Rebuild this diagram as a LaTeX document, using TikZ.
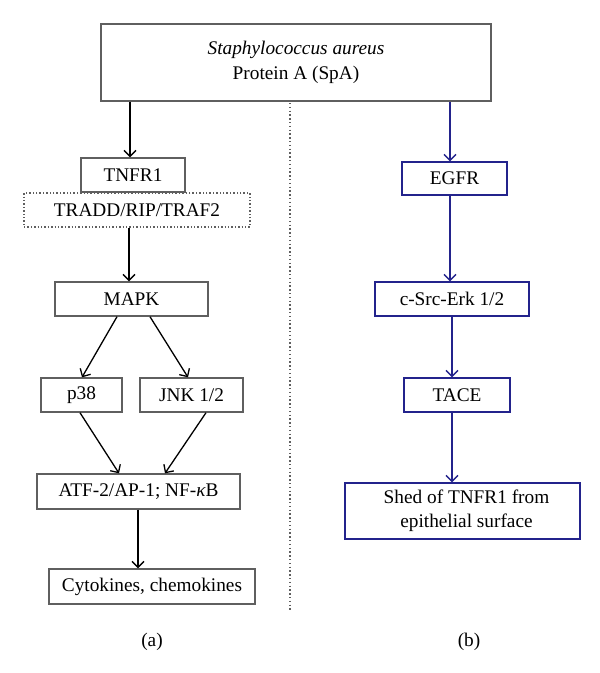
\documentclass[tikz,border=0pt]{standalone}
\usepackage{fontspec}
\setmainfont{Liberation Serif}
\usetikzlibrary{arrows.meta}
\definecolor{boxgray}{RGB}{95,95,95}
\definecolor{navy}{RGB}{35,35,140}
\begin{document}
\begin{tikzpicture}[x=1pt,y=-1pt,
  every node/.style={font=\fontsize{19.3}{24.5}\selectfont, inner sep=0pt, align=center},
  gbox/.style={draw=boxgray, line width=1.4pt, minimum height=34pt},
  bbox/.style={draw=navy, line width=1.4pt, minimum height=33pt},
  dbox/.style={draw=boxgray, line width=1.4pt, dotted, minimum height=34pt},
  arr/.style={draw=black, line width=1.3pt, -{Straight Barb[length=6pt,width=12pt,line width=1.3pt]}},
  barr/.style={draw=navy, line width=1.3pt, -{Straight Barb[length=6pt,width=12pt,line width=1.3pt]}}]
\useasboundingbox (0,0) rectangle (600,673);
\fill[white] (0,0) rectangle (600,673);

% top box
\node[gbox, minimum width=390pt, minimum height=77pt] (top) at (296,62.5)
  {\textit{Staphylococcus aureus}\\[1pt] Protein A (SpA)};

% left column
\node[gbox, minimum width=104pt] (tnfr) at (133,175) {TNFR1};
\node[dbox, minimum width=226pt] (tradd) at (137,210) {TRADD/RIP/TRAF2};
\node[gbox, minimum width=153pt] (mapk) at (131.5,299) {MAPK};
\node[gbox, minimum width=81pt] (p38) at (81.5,395) {p38};
\node[gbox, minimum width=103pt] (jnk) at (191.5,395) {JNK 1/2};
\node[gbox, minimum width=203pt, minimum height=35pt] (atf) at (138.5,491.5) {ATF-2/AP-1; NF-{\itshape κ}B};
\node[gbox, minimum width=206pt, minimum height=35pt] (cyto) at (152,586.5) {Cytokines, chemokines};

% right column
\node[bbox, minimum width=105pt] (egfr) at (454.5,178.5) {EGFR};
\node[bbox, minimum width=154pt, minimum height=34pt] (csrc) at (452,299) {c-Src-Erk 1/2};
\node[bbox, minimum width=106pt, minimum height=34pt] (tace) at (457,395) {TACE};
\node[bbox, minimum width=235pt, minimum height=56pt] (shed) at (462.5,511)
  {\hspace{8pt}Shed of TNFR1 from\\ \hspace{8pt}epithelial surface};

% separator
\coordinate (dtop) at (290,103);
\coordinate (dbot) at (290,610);
\draw[boxgray, line width=1.3pt, dash pattern=on 1.3pt off 2.5pt] (dtop) -- (dbot);

% left arrows
\draw[arr] ([xshift=-3pt]tnfr.north |- top.south) -- ([xshift=-3pt]tnfr.north);
\draw[arr] ([xshift=-8pt]tradd.south) -- ([xshift=-2.5pt]mapk.north);
\draw[arr] ([xshift=-14.5pt]mapk.south) -- ([xshift=0.5pt]p38.north);
\draw[arr] ([xshift=18.5pt]mapk.south) -- ([xshift=-3.5pt]jnk.north);
\draw[arr] ([xshift=-1.5pt]p38.south) -- ([xshift=-19.5pt]atf.north);
\draw[arr] ([xshift=14.5pt]jnk.south) -- ([xshift=26.5pt]atf.north);
\draw[arr] ([xshift=-0.5pt]atf.south) -- ([xshift=-14pt]cyto.north);

% right arrows
\draw[barr] ([xshift=-4.5pt]egfr.north |- top.south) -- ([xshift=-4.5pt]egfr.north);
\draw[barr] ([xshift=-4.5pt]egfr.south) -- ([xshift=-2pt]csrc.north);
\draw[barr] (csrc.south) -- ([xshift=-5pt]tace.north);
\draw[barr] ([xshift=-5pt]tace.south) -- ([xshift=-10.5pt]shed.north);

% labels
\node (la) at (152,642) {(a)};
\node (lb) at (469,642) {(b)};
\end{tikzpicture}
\end{document}
